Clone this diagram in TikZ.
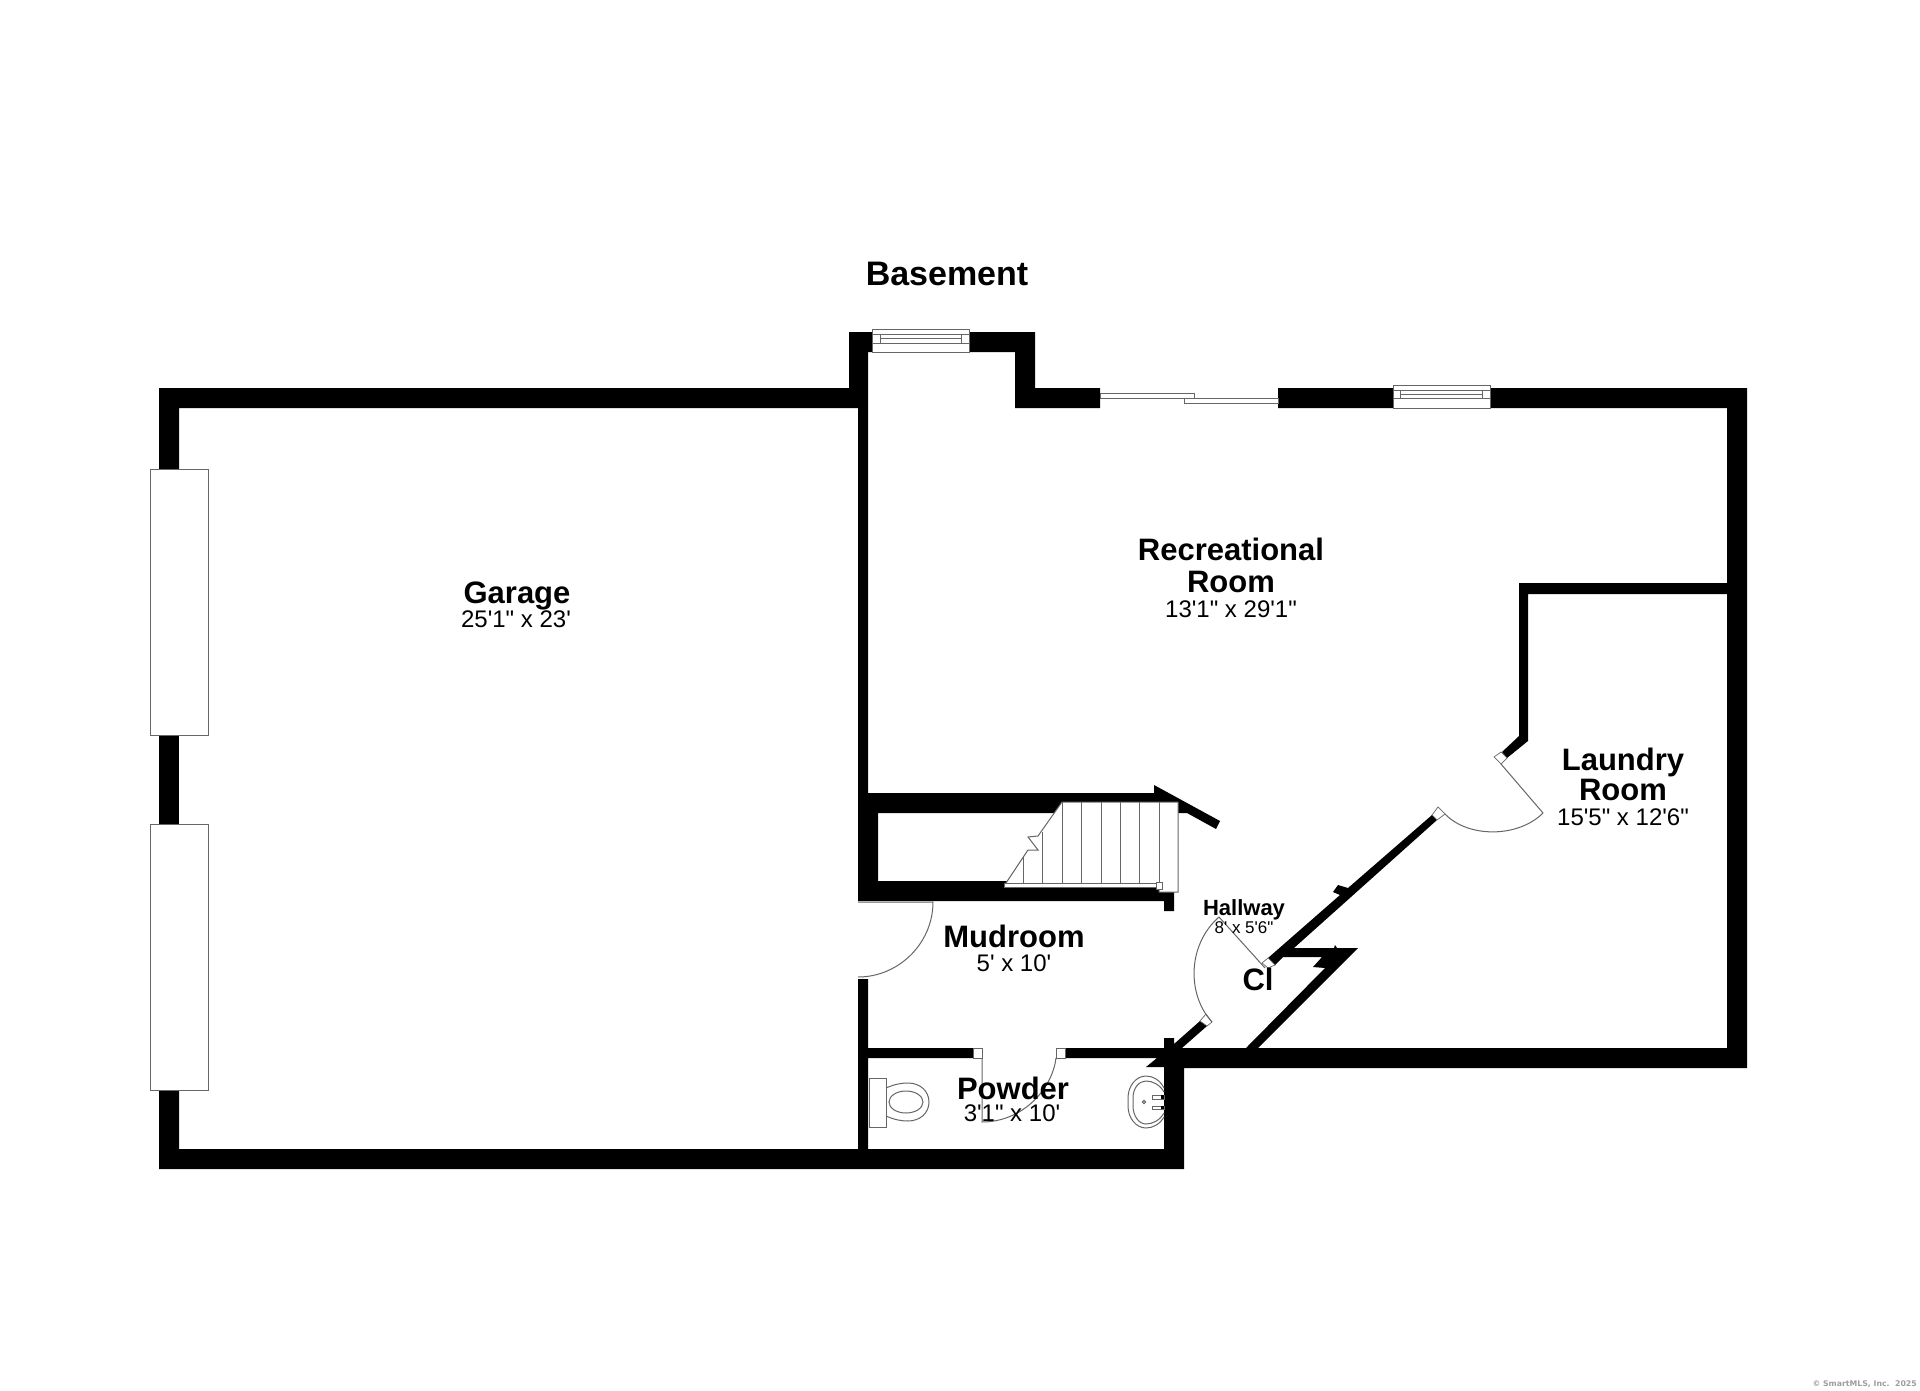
\documentclass[tikz,border=0pt]{standalone}
\usepackage{fontspec}
\newfontfamily\labfont{Liberation Sans}
\newfontfamily\markfont{DejaVu Sans}
\definecolor{edge}{gray}{0.4}
\newcommand{\fs}[1]{\fontsize{#1}{#1}\selectfont}
\tikzset{
  wall/.style={fill=black,draw=none},
  fixture/.style={draw=edge,line width=1pt,fill=white},
  hair/.style={draw=edge,line width=1pt},
  lab/.style={inner sep=0pt,anchor=center,text depth=0pt,align=center},
  title/.style={lab,font=\labfont\fs{34}\bfseries,text height=24.4pt},
  room/.style={lab,font=\labfont\fs{31}\bfseries,text height=22.3pt},
  dims/.style={lab,font=\labfont\fs{24},text height=17.3pt},
  smallroom/.style={lab,font=\labfont\fs{22}\bfseries,text height=15.8pt},
  smalldims/.style={lab,font=\labfont\fs{17},text height=12.2pt},
}
\begin{document}
\begin{tikzpicture}[x=1pt,y=-1pt]
\useasboundingbox (0,0) rectangle (1920,1391);
\fill[white] (0,0) rectangle (1920,1391);
% walls
\fill[wall] (159,469)--(159,388)--(849,388)--(849,332)--(1035,332)--(1035,388)--(1100,388)--(1100,408)--(1015,408)--(1015,352)--(868,352)--(868,793)--(858,793)--(858,408)--(179,408)--(179,469)--cycle;
\fill[wall] (159,735) rectangle (179,824);
\fill[wall] (858,793)--(1154,793)--(1154,785)--(1220,821)--(1216,829)--(1187,813)--(878,813)--(878,881)--(1174,881)--(1174,911)--(1164,911)--(1164,901)--(858,901)--cycle;
\fill[wall] (159,1090)--(179,1090)--(179,1149)--(858,1149)--(858,979)--(868,979)--(868,1048)--(973,1048)--(973,1058)--(868,1058)--(868,1149)--(1164,1149)--(1164,1067)--(1146,1067)--(1157,1058)--(1065,1058)--(1065,1048)--(1164,1048)--(1164,1038)--(1174,1038)--(1174,1044)--(1200,1021)--(1207,1026)--(1182,1048)--(1727,1048)--(1727,408)--(1278,408)--(1278,388)--(1747,388)--(1747,1068)--(1184,1068)--(1184,1169)--(159,1169)--cycle;
\fill[wall] (1432,815)--(1348,888)--(1338,885)--(1333,892)--(1340,895)--(1268,958)--(1275,965)--(1283,957)--(1322,957)--(1313,967)--(1325,968)--(1246,1048)--(1258,1048)--(1358,948)--(1337,948)--(1335,945)--(1334,948)--(1294,948)--(1437,820)--cycle;
\fill[wall] (1727,583)--(1519,583)--(1519,736)--(1502,752)--(1507,758)--(1528,741)--(1528,594)--(1727,594)--cycle;
% garage doors
\draw[fixture] (150,469) rectangle (208,735);
\draw[fixture] (150,824) rectangle (208,1090);
% windows
\draw[fixture] (872,329) rectangle (969,352);
\draw[hair] (872,334)--(969,334) (872,343)--(969,343) (880,334)--(880,343) (961,334)--(961,343) (880,338)--(961,338);
\draw[fixture] (1393,385) rectangle (1490,408);
\draw[hair] (1393,390)--(1490,390) (1393,398)--(1490,398) (1400,390)--(1400,398) (1482,390)--(1482,398) (1400,394)--(1482,394);
% sliding door
\draw[fixture] (1100,393) rectangle (1194,398);
\draw[fixture] (1184,398) rectangle (1278,403);
% stairs
\fill[white] (1062,802)--(1178,802)--(1178,892)--(1159,892)--(1159,887)--(1004,887)--(1004,883)--(1006,883)--(1028,850)--(1038,850)--(1028,837)--(1038,836)--cycle;
\draw[hair] (1006,883)--(1028,850)--(1038,850)--(1028,837)--(1038,836)--(1062,802)--(1178,802)--(1178,892)--(1159,892)--(1159,887);
\draw[hair] (1004,883) rectangle (1159,887);
\foreach \sx in {1062,1081,1101,1120,1139,1159} \draw[hair] (\sx,802)--(\sx,883);
\draw[hair] (1042,832)--(1042,883) (1023,857)--(1023,883);
\draw[fixture] (1156,882) rectangle (1162,889);
% door jambs
\draw[fixture,line width=.7pt] (973,1048) rectangle (982,1058);
\draw[fixture,line width=.7pt] (1056,1048) rectangle (1065,1058);
\draw[fixture,line width=.7pt] (1494,757)--(1501,752)--(1507,758)--(1501,764)--cycle;
\draw[fixture,line width=.7pt] (1432,815)--(1438,807)--(1445,814)--(1437,820)--cycle;
\draw[fixture,line width=.7pt] (1262,963)--(1268,958)--(1275,965)--(1268,968)--cycle;
\draw[fixture,line width=.7pt] (1206,1014)--(1212,1022)--(1207,1026)--(1200,1021)--cycle;
% door leaves and swings
\draw[hair] (858,902)--(933,902) .. controls (933,943) and (899,977) .. (858,977);
\draw[hair] (982,1058)--(982,1122) .. controls (1022,1122) and (1052,1090) .. (1056,1058);
\draw[hair] (1501,764)--(1543,813) .. controls (1518,838) and (1468,838) .. (1445,814);
\draw[hair] (1265,968)--(1219,917) .. controls (1187,945) and (1187,995) .. (1212,1022);
% toilet
\draw[fixture] (869,1078) rectangle (886,1127);
\draw[hair] (886,1088) .. controls (895,1084) and (902,1083) .. (908,1083) .. controls (920,1083) and (929,1091) .. (929,1102) .. controls (929,1113) and (920,1121) .. (908,1121) .. controls (902,1121) and (895,1120) .. (886,1116);
\draw[hair] (906,1102) ellipse [x radius=17,y radius=11];
% sink
\draw[hair] (1164,1088) .. controls (1160,1080) and (1153,1076) .. (1146,1076) .. controls (1136,1076) and (1128,1086) .. (1128,1098) -- (1128,1106) .. controls (1128,1118) and (1136,1128) .. (1146,1128) .. controls (1153,1128) and (1160,1124) .. (1164,1117);
\draw[hair] (1164,1092) .. controls (1160,1085) and (1153,1081) .. (1146,1081) .. controls (1139,1081) and (1133,1088) .. (1133,1098) -- (1133,1106) .. controls (1133,1116) and (1139,1124) .. (1146,1124) .. controls (1153,1124) and (1160,1120) .. (1164,1113);
\draw[hair] (1144,1102) circle (1.6);
\draw[hair] (1152,1095) rectangle (1164,1099);
\draw[hair] (1152,1106) rectangle (1164,1109);
\fill (1161,1095) rectangle (1164,1099);
\fill (1161,1106) rectangle (1164,1109);
% text
\node[title] (basement) at (947,273) {Basement};
\node[room] (garage) at (517,592) {Garage};
\node[dims] (garagedim) at (516,619) {25'1" x 23'};
\node[room] (rec1) at (1231,549) {Recreational};
\node[room] (rec2) at (1231,581) {Room};
\node[dims] (recdim) at (1231,609) {13'1" x 29'1"};
\node[room] (lau1) at (1623,759) {Laundry};
\node[room] (lau2) at (1623,789) {Room};
\node[dims] (laudim) at (1623,817) {15'5" x 12'6"};
\node[room] (mud) at (1014,936) {Mudroom};
\node[dims] (muddim) at (1014,963) {5' x 10'};
\node[smallroom] (hall) at (1244,908) {Hallway};
\node[smalldims] (halldim) at (1244,927) {8' x 5'6"};
\node[room] (cl) at (1258,979) {Cl};
\node[room] (pow) at (1013,1088) {Powder};
\node[dims] (powdim) at (1012,1113) {3'1" x 10'};
\node[inner sep=0pt,anchor=east,text=black!38,font=\markfont\fs{7.8}\bfseries] (mark) at (1917,1384) {© SmartMLS, Inc.\ \ 2025};
\end{tikzpicture}
\end{document}
